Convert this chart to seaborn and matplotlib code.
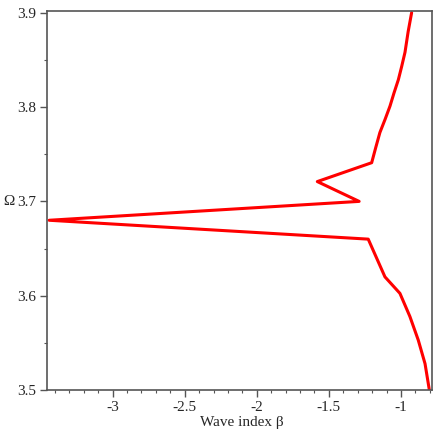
import matplotlib
matplotlib.use("Agg")
import matplotlib.pyplot as plt
from matplotlib.ticker import MultipleLocator
import pandas as pd
import seaborn as sns

# wave index beta versus frequency Omega
beta = [-0.926, -0.950, -0.972, -0.995, -1.018, -1.048, -1.076, -1.110, -1.146,
        -1.175, -1.203, -1.58, -1.29, -3.44,
        -1.227, -1.111, -1.007, -0.938, -0.880, -0.833, -0.803]
omega = [3.900, 3.880, 3.858, 3.843, 3.829, 3.815, 3.801, 3.787, 3.773,
         3.757, 3.741, 3.721, 3.700, 3.680,
         3.660, 3.620, 3.6025, 3.578, 3.553, 3.528, 3.500]

x_ticks = [-3, -2.5, -2, -1.5, -1]
y_ticks = [3.5, 3.6, 3.7, 3.8, 3.9]


def main():
    sns.set_style("ticks")
    plt.rcParams['font.family'] = ['Liberation Serif', 'DejaVu Serif']

    df = pd.DataFrame({'beta': beta, 'omega': omega})

    fig = plt.figure(figsize=(4.35, 4.32), dpi=100)
    ax = fig.add_axes([0.108, 0.097, 0.885, 0.878])

    sns.lineplot(data=df, x='beta', y='omega', sort=False, estimator=None,
                 color='#ff0000', linewidth=2.2, ax=ax)

    ax.set_xlim(-3.455, -0.785)
    ax.set_ylim(3.5, 3.902)
    ax.set_xticks(x_ticks)
    ax.set_xticklabels(['-3', '-2.5', '-2', '-1.5', '-1'])
    ax.set_yticks(y_ticks)
    ax.set_yticklabels([f'{v:.1f}' for v in y_ticks])
    ax.xaxis.set_minor_locator(MultipleLocator(0.1))
    ax.yaxis.set_minor_locator(MultipleLocator(0.05))

    ax.tick_params(axis='both', which='major', length=5, width=1, color='#555555',
                   labelsize=11, direction='out', pad=3)
    ax.tick_params(axis='both', which='minor', length=2.5, width=0.8, color='#555555',
                   direction='out')
    for side in ['left', 'bottom', 'top', 'right']:
        ax.spines[side].set_color('#555555')
        ax.spines[side].set_linewidth(1.2)

    ax.set_xlabel('Wave index β', fontsize=11, va='top')
    ax.xaxis.set_label_coords(0.505, -0.068)
    ax.set_ylabel('Ω', fontsize=11, rotation=0, va='center', ha='center')
    ax.yaxis.set_label_coords(-0.098, 0.497)

    fig.savefig('out.png', dpi=100)
    plt.close(fig)


if __name__ == '__main__':
    main()
